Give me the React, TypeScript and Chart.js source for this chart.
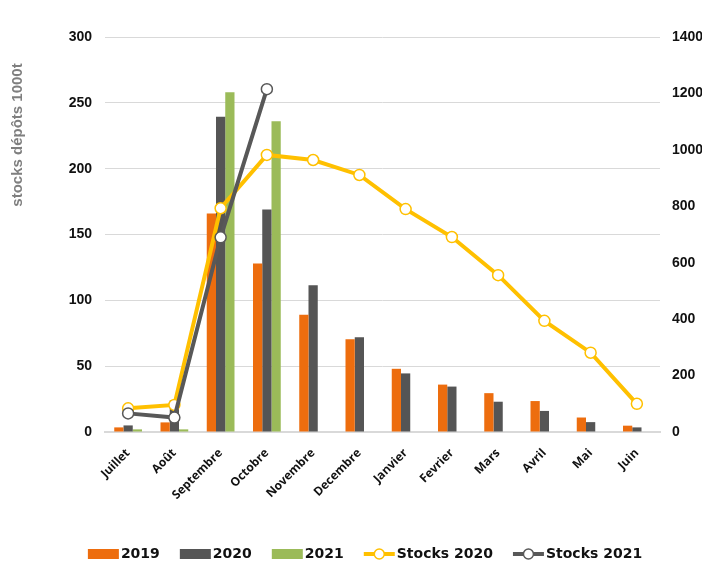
import React, { useEffect, useRef } from 'react';
import { Chart, registerables } from 'chart.js';

Chart.register(...registerables);

const categories = ['Juillet', 'Août', 'Septembre', 'Octobre', 'Novembre', 'Decembre', 'Janvier', 'Fevrier', 'Mars', 'Avril', 'Mai', 'Juin'];
const values2019 = [3.5, 7.3, 166, 128, 89, 70.5, 48, 36, 29.5, 23.5, 11, 4.8];
const values2020 = [5, 24, 239.5, 169, 111.5, 72, 44.5, 34.5, 23, 16, 7.5, 3.5];
const values2021 = [2, 2, 258, 236, null, null, null, null, null, null, null, null];
const stocks2020 = [84, 96, 793, 982, 964, 911, 790, 691, 556, 394, 281, 100];
const stocks2021 = [66, 51, 690, 1215, null, null, null, null, null, null, null, null];
const leftTicks = [0, 50, 100, 150, 200, 250, 300];
const rightTicks = [0, 200, 400, 600, 800, 1000, 1200, 1400];
const yTitle = 'stocks dépôts 1000t';

const ORANGE = '#ED6D0E';
const GRAY = '#555555';
const GREEN = '#9BBB59';
const YELLOW = '#FFC000';
const GRAY_LINE = '#585858';

const legendItems = [
  { kind: 'box', color: ORANGE, label: '2019' },
  { kind: 'box', color: GRAY, label: '2020' },
  { kind: 'box', color: GREEN, label: '2021' },
  { kind: 'line', color: YELLOW, label: 'Stocks 2020' },
  { kind: 'line', color: GRAY_LINE, label: 'Stocks 2021' },
];

const customDraw = {
  id: 'customDraw',
  afterDraw(chart: any) {
    const ctx = chart.ctx;
    const area = chart.chartArea;
    // y-axis title
    ctx.save();
    ctx.font = 'bold 15px "Liberation Sans", Arial, sans-serif';
    ctx.fillStyle = '#7F7F7F';
    ctx.textAlign = 'center';
    ctx.textBaseline = 'middle';
    ctx.translate(18, area.top + 98);
    ctx.rotate(-Math.PI / 2);
    ctx.fillText(yTitle, 0, 0);
    ctx.restore();

    // legend
    ctx.save();
    ctx.font = 'bold 14px "DejaVu Sans", sans-serif';
    const symW = 31;
    const gapText = 2;
    const gapItem = 20;
    const widths = legendItems.map((it) => symW + gapText + ctx.measureText(it.label).width);
    const total = widths.reduce((a, b) => a + b, 0) + gapItem * (legendItems.length - 1);
    let x = 365 - total / 2;
    const y = 554;
    legendItems.forEach((it, i) => {
      if (it.kind === 'box') {
        ctx.fillStyle = it.color;
        ctx.fillRect(x, y - 5, symW, 10);
      } else {
        ctx.strokeStyle = it.color;
        ctx.lineWidth = 4;
        ctx.beginPath();
        ctx.moveTo(x, y);
        ctx.lineTo(x + symW, y);
        ctx.stroke();
        ctx.beginPath();
        ctx.arc(x + symW / 2, y, 5, 0, Math.PI * 2);
        ctx.fillStyle = '#FFFFFF';
        ctx.fill();
        ctx.lineWidth = 1.5;
        ctx.stroke();
      }
      ctx.fillStyle = '#111111';
      ctx.textAlign = 'left';
      ctx.textBaseline = 'middle';
      ctx.fillText(it.label, x + symW + gapText, y);
      x += widths[i] + gapItem;
    });
    ctx.restore();
  },
};

export default function App() {
  const ref = useRef<HTMLCanvasElement | null>(null);

  useEffect(() => {
    if (!ref.current) return;
    const tickFont = { family: '"Liberation Sans", Arial, sans-serif', size: 14, weight: 'bold' as const };
    const chart = new Chart(ref.current, {
      type: 'bar',
      data: {
        labels: categories,
        datasets: [
          {
            type: 'line',
            label: 'Stocks 2021',
            data: stocks2021,
            yAxisID: 'y1',
            borderColor: GRAY_LINE,
            borderWidth: 4,
            pointRadius: 5.5,
            pointBackgroundColor: '#FFFFFF',
            pointBorderColor: GRAY_LINE,
            pointBorderWidth: 1.5,
            order: 0,
            spanGaps: false,
          } as any,
          {
            type: 'line',
            label: 'Stocks 2020',
            data: stocks2020,
            yAxisID: 'y1',
            borderColor: YELLOW,
            borderWidth: 4,
            pointRadius: 5.5,
            pointBackgroundColor: '#FFFFFF',
            pointBorderColor: YELLOW,
            pointBorderWidth: 1.5,
            order: 1,
          } as any,
          {
            type: 'bar',
            label: '2019',
            data: values2019,
            yAxisID: 'y',
            backgroundColor: ORANGE,
            categoryPercentage: 0.6,
            barPercentage: 1.0,
            order: 2,
          },
          {
            type: 'bar',
            label: '2020',
            data: values2020,
            yAxisID: 'y',
            backgroundColor: GRAY,
            categoryPercentage: 0.6,
            barPercentage: 1.0,
            order: 2,
          },
          {
            type: 'bar',
            label: '2021',
            data: values2021,
            yAxisID: 'y',
            backgroundColor: GREEN,
            categoryPercentage: 0.6,
            barPercentage: 1.0,
            order: 2,
          },
        ],
      },
      options: {
        animation: false,
        responsive: false,
        maintainAspectRatio: false,
        layout: { padding: { top: 37, left: 0, right: 0, bottom: 0 } },
        plugins: {
          legend: { display: false },
          tooltip: { enabled: false },
        },
        scales: {
          x: {
            grid: { display: false, drawTicks: false },
            border: { color: '#D9D9D9', width: 2 },
            ticks: {
              minRotation: 45,
              maxRotation: 45,
              padding: 14,
              color: '#111111',
              font: { family: '"Open Sans", sans-serif', size: 12, weight: 700 as any },
            },
            afterFit: (s: any) => { s.height = 130; },
          },
          y: {
            position: 'left',
            min: 0,
            max: leftTicks[leftTicks.length - 1],
            afterBuildTicks: (s: any) => { s.ticks = leftTicks.map((v) => ({ value: v })); },
            grid: { color: '#D9D9D9', drawTicks: false, lineWidth: 1 },
            border: { display: false },
            ticks: { padding: 13, color: '#111111', font: tickFont, callback: (v: any) => String(v) },
            afterFit: (s: any) => { s.width = 105; },
          },
          y1: {
            position: 'right',
            min: 0,
            max: rightTicks[rightTicks.length - 1],
            afterBuildTicks: (s: any) => { s.ticks = rightTicks.map((v) => ({ value: v })); },
            grid: { display: false, drawTicks: false },
            border: { display: false },
            ticks: { padding: 12, color: '#111111', font: tickFont, callback: (v: any) => String(v) },
            afterFit: (s: any) => { s.width = 42; },
          },
        },
      },
      plugins: [customDraw],
    });
    return () => chart.destroy();
  }, []);

  return (
    <div style={{ position: 'fixed', left: 0, top: 0, width: 702, height: 562, background: '#FFFFFF' }}>
      <canvas ref={ref} width={702} height={562} style={{ display: 'block', width: 702, height: 562 }} />
    </div>
  );
}
